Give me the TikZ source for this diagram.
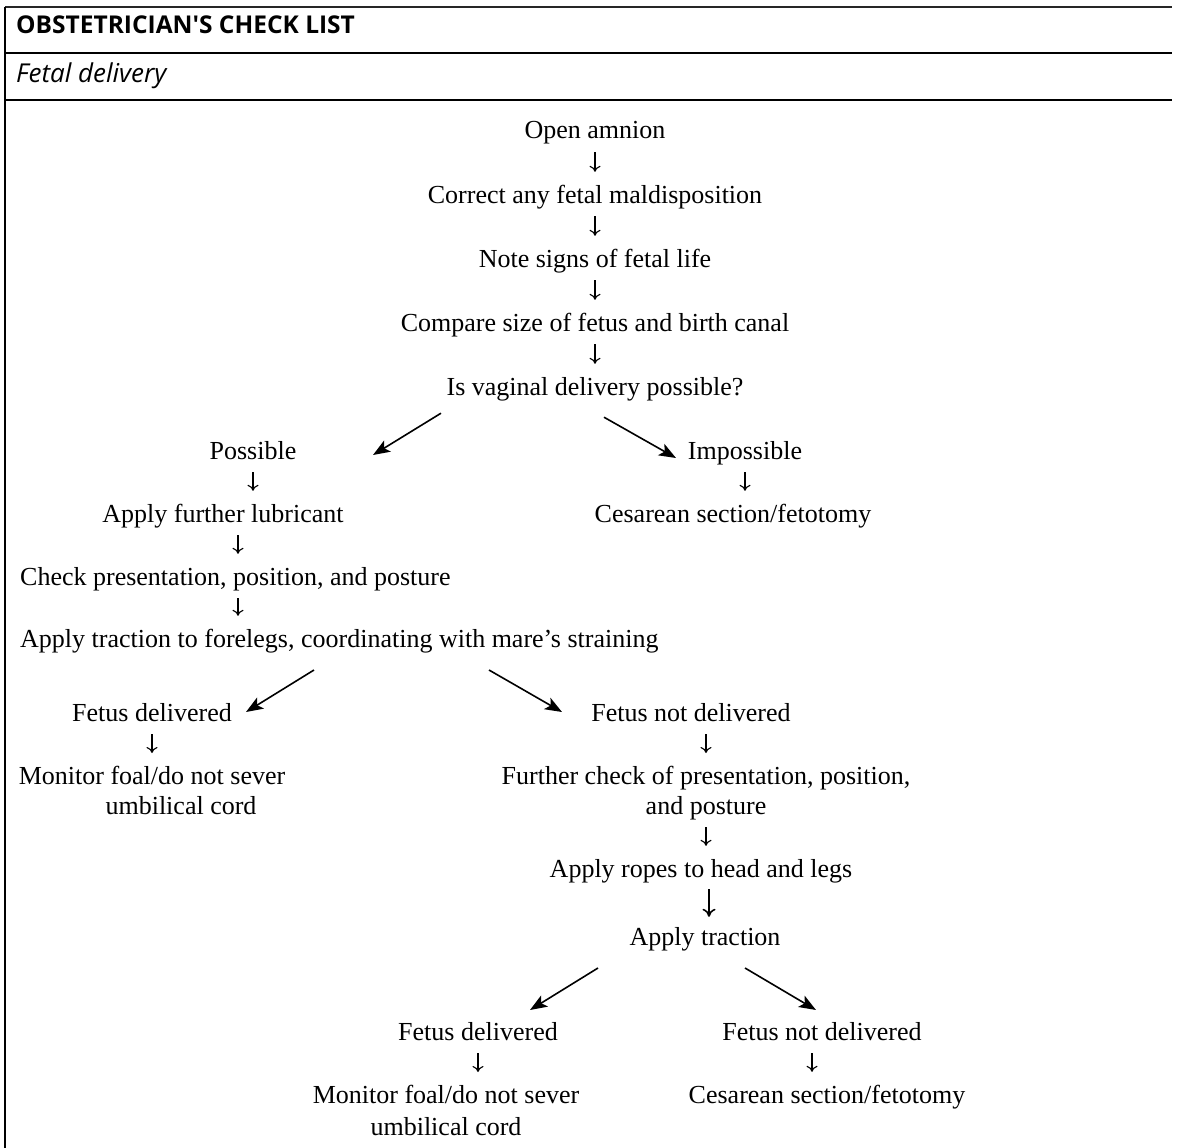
\documentclass[tikz,border=0pt]{standalone}
\usepackage{fontspec}
\setmainfont{Liberation Serif}
\newfontfamily\headfont{Open Sans}
\usetikzlibrary{arrows.meta}

\begin{document}
\begin{tikzpicture}[x=1pt,y=-1pt,
  % one line of the flow chart, placed by its baseline
  item/.style={font=\fontsize{26}{30}\selectfont, inner sep=0pt,
    text height=18pt, text depth=6pt, anchor=base},
  % two-line entries, placed by their top edge
  block/.style={font=\fontsize{26}{30}\selectfont, inner sep=0pt,
    align=center, anchor=north},
  % short downward step arrow
  vlink/.style={-{To[length=6pt,width=11pt]}, line width=1.1pt,
    shorten <=7pt, shorten >=13pt},
  % heavy diagonal branch arrow
  dlink/.style={-{Stealth[length=17pt,width=13pt,inset=4pt]}, line width=1.6pt},
  rulethin/.style={line width=1.4pt, black!85},
  rulethick/.style={line width=2pt}
]
\useasboundingbox (0,0) rectangle (1179,1148);

% frame and header rules
\draw[rulethin] (5,7) -- (1172,7);
\draw[rulethick] (5,53) -- (1172,53);
\draw[rulethick] (5,100) -- (1172,100);
\draw[line width=1.2pt] (5,7) -- (5,1148);

\node[anchor=base west, inner sep=0pt, font=\headfont\bfseries\fontsize{24.5}{28}\selectfont]
  (title) at (16,34) {OBSTETRICIAN'S CHECK LIST};
\node[anchor=base west, inner sep=0pt, font=\headfont\itshape\fontsize{26}{30}\selectfont]
  (subtitle) at (16,83) {Fetal delivery};

% main column
\node[item] (open)    at (595,139) {Open amnion};
\node[item] (correct) at (595,203) {Correct any fetal maldisposition};
\node[item] (signs)   at (595,267) {Note signs of fetal life};
\node[item] (compare) at (595,331) {Compare size of fetus and birth canal};
\node[item] (vaginal) at (595,395) {Is vaginal delivery possible?};

\draw[vlink] (open.south)    -- (open.south |- correct.north);
\draw[vlink] (correct.south) -- (correct.south |- signs.north);
\draw[vlink] (signs.south)   -- (signs.south |- compare.north);
\draw[vlink] (compare.south) -- (compare.south |- vaginal.north);

% vaginal delivery possible
\node[item] (possible) at (253,459) {Possible};
\node[item] (lube)     at (223,522) {Apply further lubricant};
\node[item, anchor=base west] (checkpp)   at (20,585) {Check presentation, position, and posture};
\node[item, anchor=base west] (tractfore) at (20,647) {Apply traction to forelegs, coordinating with mare's straining};

\coordinate (lubeout)  at ([xshift=15pt]lube.south);
\coordinate (checkout) at (lubeout |- checkpp.south);

\draw[vlink] (possible.south) -- (possible.south |- lube.north);
\draw[vlink] (lubeout) -- (lubeout |- checkpp.north);
\draw[vlink] (checkout) -- (checkout |- tractfore.north);

% vaginal delivery impossible
\node[item] (impossible) at (745,459) {Impossible};
\node[item] (cesA)       at (733,522) {Cesarean section/fetotomy};
\draw[vlink] (impossible.south) -- (impossible.south |- cesA.north);

\draw[dlink] ([shift={(-154,12)}]vaginal.south) -- ([shift={(120,-4)}]possible.base);
\draw[dlink] ([shift={(9,16)}]vaginal.south) -- ([shift={(-69,-1)}]impossible.base);

% outcome of traction on the forelegs
\node[item]  (delivA)   at (152,721) {Fetus delivered};
\node[block] (monitorA) at (152,766) {Monitor foal/do not sever\\\hspace*{58pt}umbilical cord};
\draw[vlink] (delivA.south) -- (delivA.south |- monitorA.north);

\node[item]  (notdelA)    at (691,721) {Fetus not delivered};
\node[block] (furtherchk) at (706,766) {Further check of presentation, position,\\and posture};
\node[item]  (ropes)      at (701,877) {Apply ropes to head and legs};
\node[item]  (tractB)     at (705,945) {Apply traction};

\coordinate (ropesout) at ([xshift=8pt]ropes.south);

\draw[vlink] (notdelA.south -| furtherchk.north) -- (furtherchk.north);
\draw[vlink] (furtherchk.south) -- (furtherchk.south |- ropes.north);
\draw[vlink, line width=1.6pt, -{To[length=8pt,width=13pt]}, shorten <=6pt, shorten >=10pt]
  (ropesout) -- (ropesout |- tractB.north);

\draw[dlink] ([shift={(294,23)}]tractfore.base west) -- ([shift={(94,-9)}]delivA.base);
\draw[dlink] ([shift={(469,23)}]tractfore.base west) -- ([shift={(-129,-9)}]notdelA.base);

% outcome of roped traction
\node[item]  (delivB)   at (478,1040) {Fetus delivered};
\node[block, font=\fontsize{26}{32}\selectfont] (monitorB) at (446,1085) {Monitor foal/do not sever\\umbilical cord};
\node[item]  (notdelB)  at (822,1040) {Fetus not delivered};
\node[item]  (cesB)     at (827,1103) {Cesarean section/fetotomy};

\coordinate (notdelBout) at ([xshift=-10pt]notdelB.south);

\draw[vlink] (delivB.south) -- (delivB.south |- monitorB.north);
\draw[vlink] (notdelBout) -- (notdelBout |- cesB.north);

\draw[dlink] ([shift={(-107,23)}]tractB.base) -- ([shift={(52,-30)}]delivB.base);
\draw[dlink] ([shift={(40,23)}]tractB.base) -- ([shift={(-6,-30)}]notdelB.base);

\end{tikzpicture}
\end{document}
